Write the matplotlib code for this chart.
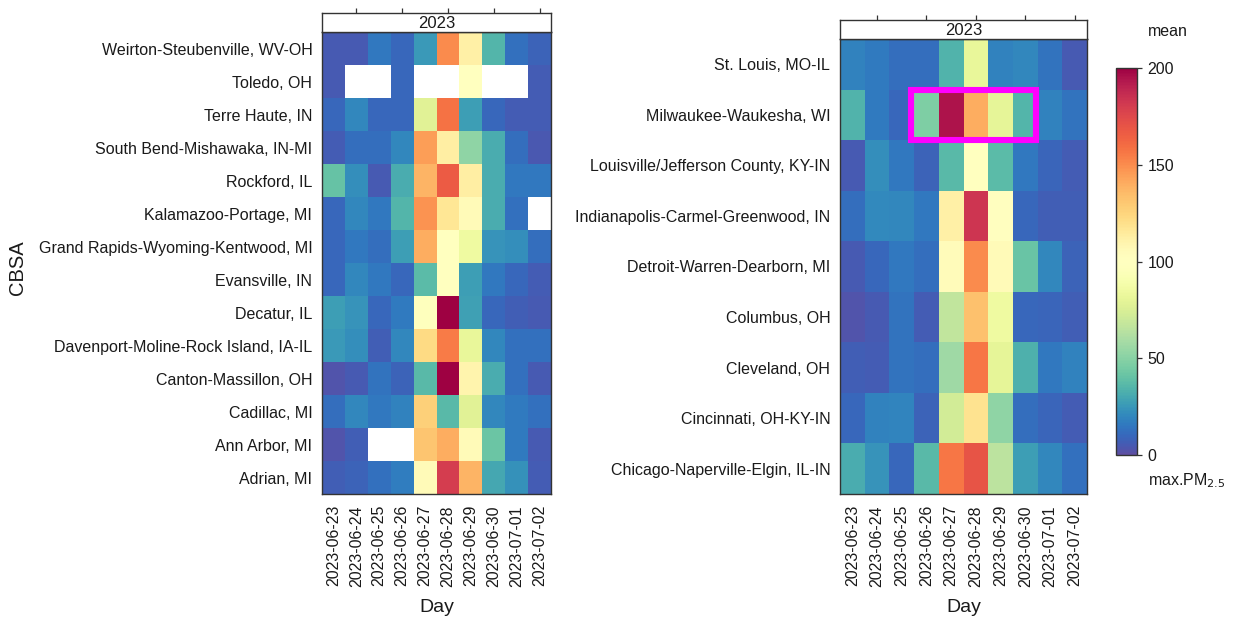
import numpy as np
import matplotlib
matplotlib.use("Agg")
import matplotlib.pyplot as plt
from matplotlib.colors import ListedColormap
from matplotlib.patches import Rectangle

plt.rcParams['font.family'] = ['Liberation Sans', 'DejaVu Sans']

# ---------------- data ----------------
days = ["2023-06-23", "2023-06-24", "2023-06-25", "2023-06-26", "2023-06-27",
        "2023-06-28", "2023-06-29", "2023-06-30", "2023-07-01", "2023-07-02"]
panel_title = "2023"
nan = np.nan

left_cbsa = ["Weirton-Steubenville, WV-OH", "Toledo, OH", "Terre Haute, IN",
             "South Bend-Mishawaka, IN-MI", "Rockford, IL", "Kalamazoo-Portage, MI",
             "Grand Rapids-Wyoming-Kentwood, MI", "Evansville, IN", "Decatur, IL",
             "Davenport-Moline-Rock Island, IA-IL", "Canton-Massillon, OH",
             "Cadillac, MI", "Ann Arbor, MI", "Adrian, MI"]
left_values = [
    [5, 5, 15, 10, 25, 150, 112, 35, 13, 8],
    [5, nan, nan, 10, nan, nan, 100, nan, nan, 6],
    [10, 20, 10, 10, 78, 158, 27, 10, 6, 6],
    [6, 12, 12, 20, 145, 113, 52, 32, 12, 4],
    [40, 22, 5, 32, 138, 167, 113, 32, 15, 15],
    [10, 20, 15, 35, 148, 117, 106, 32, 13, nan],
    [10, 15, 12, 27, 140, 100, 85, 24, 22, 12],
    [10, 20, 15, 10, 37, 100, 27, 15, 10, 6],
    [27, 24, 10, 16, 97, 200, 28, 10, 7, 5],
    [25, 22, 7, 20, 122, 155, 82, 20, 13, 13],
    [3, 5, 14, 8, 36, 200, 110, 32, 13, 5],
    [12, 20, 15, 18, 127, 36, 78, 20, 16, 13],
    [3, 7, nan, nan, 132, 140, 106, 42, 16, 5],
    [7, 8, 13, 17, 106, 180, 138, 30, 23, 6],
]

right_cbsa = ["St. Louis, MO-IL", "Milwaukee-Waukesha, WI",
              "Louisville/Jefferson County, KY-IN",
              "Indianapolis-Carmel-Greenwood, IN", "Detroit-Warren-Dearborn, MI",
              "Columbus, OH", "Cleveland, OH", "Cincinnati, OH-KY-IN",
              "Chicago-Naperville-Elgin, IL-IN"]
right_values = [
    [18, 16, 12, 12, 34, 82, 18, 20, 14, 5],
    [34, 16, 10, 47, 195, 140, 80, 35, 18, 14],
    [5, 22, 15, 8, 36, 100, 37, 15, 9, 6],
    [12, 21, 20, 15, 112, 183, 101, 10, 7, 7],
    [5, 10, 15, 12, 105, 150, 106, 41, 20, 8],
    [3, 5, 14, 6, 67, 133, 85, 10, 9, 7],
    [7, 6, 14, 12, 57, 157, 80, 33, 15, 18],
    [10, 18, 19, 8, 72, 118, 52, 12, 9, 6],
    [32, 24, 10, 36, 157, 170, 65, 27, 20, 13],
]

cbar_ticks = [0, 50, 100, 150, 200]
vmin, vmax = 0, 200

# ---------------- colormap (rev Spectral 11, spline interpolation) ----------------
spec11 = ["#9E0142", "#D53E4F", "#F46D43", "#FDAE61", "#FEE08B", "#FFFFBF",
          "#E6F598", "#ABDDA4", "#66C2A5", "#3288BD", "#5E4FA2"][::-1]


def fmm_spline(y, xs):
    n = len(y)
    h = 1.0 / (n - 1)
    A = np.zeros((n, n))
    b = np.zeros(n)
    d3 = np.diff(y, 3)
    A[0, 0], A[0, 1] = -1, 1
    b[0] = d3[0] / h ** 2
    A[-1, -2], A[-1, -1] = -1, 1
    b[-1] = d3[-1] / h ** 2
    for i in range(1, n - 1):
        A[i, i - 1], A[i, i], A[i, i + 1] = 1, 4, 1
        b[i] = 6 * (y[i + 1] - 2 * y[i] + y[i - 1]) / h ** 2
    M = np.linalg.solve(A, b)
    xk = np.linspace(0, 1, n)
    out = np.empty_like(xs)
    for j, x in enumerate(xs):
        i = min(int(x / h), n - 2)
        t0, t1 = xk[i], xk[i + 1]
        a = (t1 - x) / h
        bb = (x - t0) / h
        out[j] = (a * y[i] + bb * y[i + 1]
                  + ((a ** 3 - a) * M[i] + (bb ** 3 - bb) * M[i + 1]) * h ** 2 / 6)
    return out


rgb = np.array([matplotlib.colors.to_rgb(c) for c in spec11])
xs = np.linspace(0, 1, 256)
cols = np.stack([fmm_spline(rgb[:, k], xs) for k in range(3)], axis=1)
cols = np.clip(cols, 0, 1)
cmap = ListedColormap(cols)
cmap.set_bad("white")

# ---------------- figure ----------------
W, H = 1234, 628
fig = plt.figure(figsize=(W / 100, H / 100), dpi=100)


def fx(px):
    return px / W


def fy(py):
    return 1 - py / H


frame_col = "#333333"
text_col = "#1a1a1a"
tick_len = 3.6
lab_fs = 11.5


def make_panel(x0, x1, ystrip, ytop, ybot, names, values, yticks_at):
    ax = fig.add_axes([fx(x0), fy(ybot), fx(x1 - x0), (ybot - ytop) / H])
    data = np.array(values, dtype=float)
    nrow, ncol = data.shape
    ax.pcolormesh(np.arange(ncol + 1) - 0.5, np.arange(nrow + 1) - 0.5,
                  np.ma.masked_invalid(data), cmap=cmap, vmin=vmin, vmax=vmax,
                  shading="flat", edgecolors="none", antialiased=False)
    ax.set_xlim(-0.5, ncol - 0.5)
    ax.set_ylim(nrow - 0.5, -0.5)
    ax.set_xticks(range(ncol))
    ax.set_xticklabels(days, rotation=90, fontsize=lab_fs, color=text_col)
    ax.set_yticks(range(nrow))
    ax.set_yticklabels(names, fontsize=lab_fs, color=text_col)
    ax.tick_params(axis="both", which="major", length=0)
    ax.tick_params(axis="x", which="major", pad=8)
    ax.tick_params(axis="y", which="major", pad=7)
    ax.set_xticks([1, 3, 5, 7, 9], minor=True)
    ax.set_yticks(yticks_at, minor=True)
    ax.tick_params(axis="both", which="minor", length=tick_len, width=0.9,
                   color=frame_col, direction="out", top=False, bottom=True,
                   left=True, right=True)
    for s in ax.spines.values():
        s.set_color(frame_col)
        s.set_linewidth(1.0)
    ax.set_xlabel("Day", fontsize=14, color=text_col, labelpad=9)
    # strip
    sax = fig.add_axes([fx(x0), fy(ytop), fx(x1 - x0), (ytop - ystrip) / H])
    sax.set_facecolor("white")
    sax.set_xlim(-0.5, ncol - 0.5)
    sax.set_yticks([])
    sax.set_xticks([1, 3, 5, 7, 9])
    sax.tick_params(axis="x", which="major", length=tick_len, width=0.9,
                    color=frame_col, direction="out", top=True, bottom=False,
                    labeltop=False, labelbottom=False)
    for s in sax.spines.values():
        s.set_color(frame_col)
        s.set_linewidth(1.0)
    sax.text(0.5, 0.45, panel_title, transform=sax.transAxes, ha="center",
             va="center", fontsize=12, color=text_col)
    return ax


axL = make_panel(322, 551, 12.7, 32, 494, left_cbsa, left_values,
                 list(range(0, len(left_cbsa), 2)))
axR = make_panel(840, 1087, 20, 39, 494, right_cbsa, right_values,
                 list(range(1, len(right_cbsa), 2)))

fig.text(fx(17), fy(268), "CBSA", rotation=90, ha="center", va="center",
         fontsize=14.5, color=text_col)

# highlight box
axR.add_patch(Rectangle((2.374, 0.5), 7.435 - 2.374, 1.0, fill=False,
                        edgecolor="#FF00FF", linewidth=4.4, zorder=5,
                        clip_on=False))

# colorbar
cax = fig.add_axes([fx(1116), fy(455), fx(1137 - 1116), (455 - 68) / H])
sm = matplotlib.cm.ScalarMappable(cmap=cmap,
                                  norm=matplotlib.colors.Normalize(vmin, vmax))
cb = fig.colorbar(sm, cax=cax, ticks=cbar_ticks)
cb.outline.set_edgecolor(frame_col)
cb.outline.set_linewidth(1.0)
cax.tick_params(length=tick_len, width=0.9, color=frame_col,
                labelsize=11.5, labelcolor=text_col, pad=4)
cax.set_yticklabels([str(t) for t in cbar_ticks])

fig.text(fx(1148), fy(32), "mean", ha="left", va="center", fontsize=11.5,
         color=text_col)
fig.text(fx(1148), fy(481), "max.PM$_{2.5}$", ha="left", va="center",
         fontsize=11.5, color=text_col)

fig.savefig("out.png", dpi=100, facecolor="white")
